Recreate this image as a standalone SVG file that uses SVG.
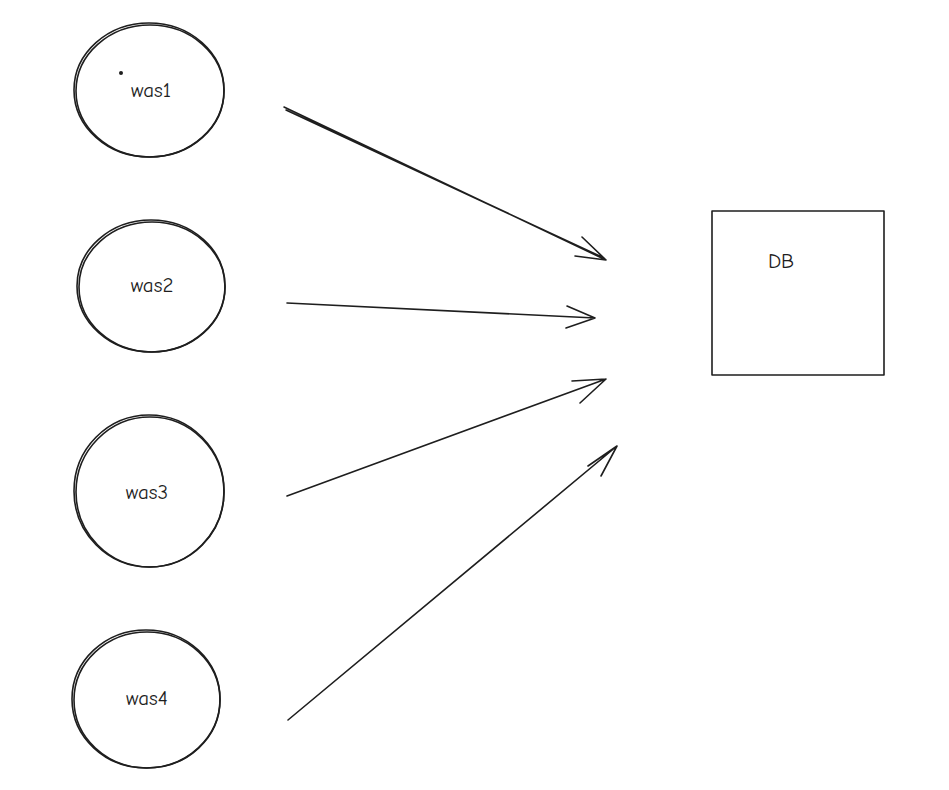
<svg xmlns="http://www.w3.org/2000/svg" width="949" height="790" viewBox="0 0 949 790">
<style>
.s{fill:none;stroke:#1e1e1e;stroke-width:1.6;stroke-linecap:round;stroke-linejoin:round}
.t{font-family:"Comic Neue","Liberation Sans",sans-serif;font-size:21px;fill:#1e1e1e;text-anchor:middle;dominant-baseline:central}
</style>
<rect width="949" height="790" fill="#fff"/>
<g id="was1">
<ellipse class="s" cx="149" cy="90" rx="75" ry="67"/>
<ellipse class="s" cx="150" cy="91" rx="74" ry="66" stroke-width="0.8"/>
<circle cx="121" cy="73" r="2" fill="#1e1e1e"/>
<text class="t" x="151" y="90">was1</text>
</g>
<g id="was2">
<ellipse class="s" cx="151" cy="286" rx="74" ry="66"/>
<ellipse class="s" cx="152" cy="287" rx="73" ry="65" stroke-width="0.8"/>
<text class="t" x="152" y="285">was2</text>
</g>
<g id="was3">
<ellipse class="s" cx="149" cy="491" rx="75" ry="76"/>
<ellipse class="s" cx="150" cy="492" rx="74" ry="75" stroke-width="0.8"/>
<text class="t" x="147" y="492">was3</text>
</g>
<g id="was4">
<ellipse class="s" cx="146" cy="699" rx="74" ry="69"/>
<ellipse class="s" cx="147" cy="700" rx="73" ry="68" stroke-width="0.8"/>
<text class="t" x="147" y="698">was4</text>
</g>
<g id="DB">
<rect class="s" x="712" y="211" width="172" height="164"/>
<text class="t" x="781" y="261">DB</text>
</g>
<g id="connectors">
<path class="s" d="M284 107 L606 260 M286 110 L604 258 M575 256 L606 260 L582 237"/>
<path class="s" d="M287 303 L595 318 M567 306 L595 318 L566 328"/>
<path class="s" d="M287 496 L606 379 M572 381 L606 379 L580 403"/>
<path class="s" d="M288 720 L617 446 M588 466 L617 446 L601 476"/>
</g>
</svg>
